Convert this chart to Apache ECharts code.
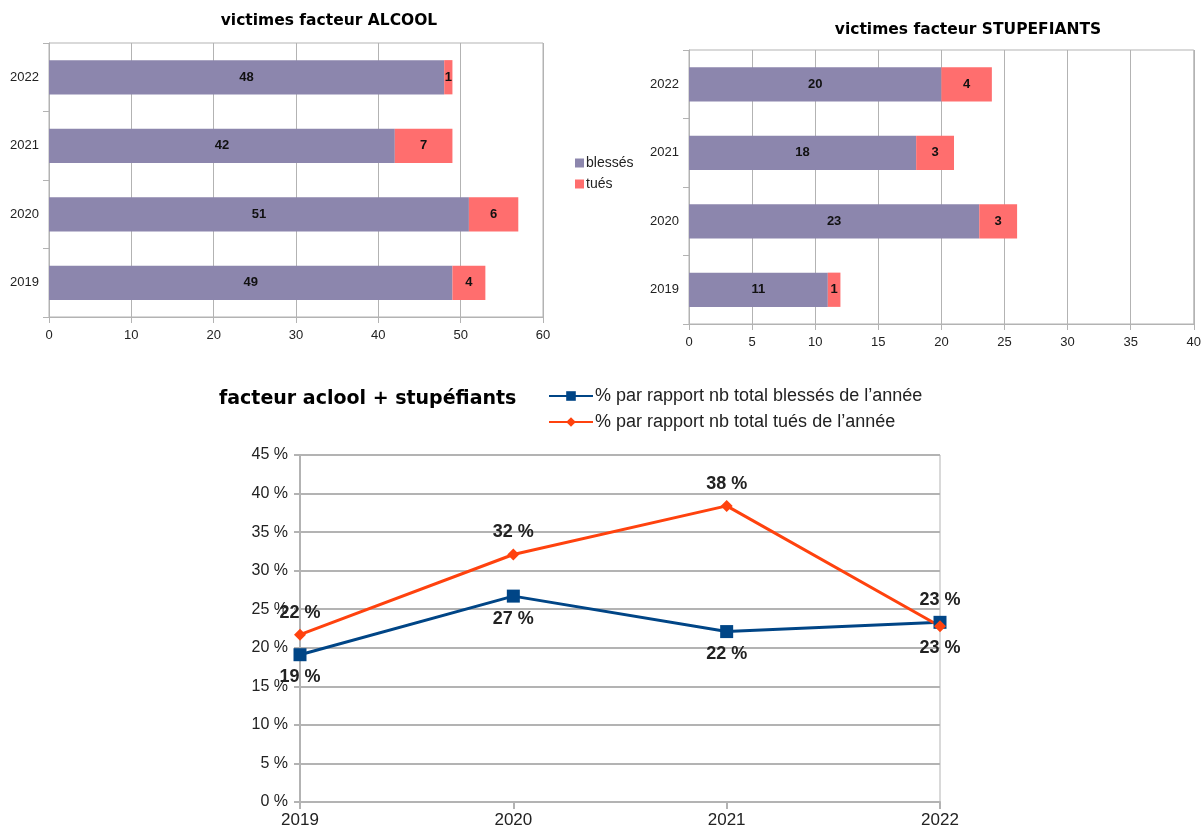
<!DOCTYPE html>
<html><head><meta charset="utf-8">
<script src="https://cdn.jsdelivr.net/npm/echarts@6/dist/echarts.min.js"></script>
<style>html,body{margin:0;padding:0;background:#fff}#c{width:1204px;height:834px}</style>
</head><body><div id="c"></div>
<script>
const years = ['2019', '2020', '2021', '2022'];
const alcoolBlesses = [49, 51, 42, 48];
const alcoolTues = [4, 6, 7, 1];
const stupBlesses = [11, 23, 18, 20];
const stupTues = [1, 3, 3, 4];
const pctBlesses = [19.1, 26.7, 22.1, 23.3];
const pctTues = [21.7, 32.1, 38.4, 22.8];
const blessesLabelPos = ['bottom', 'bottom', 'bottom', 'top'];
const tuesLabelPos = ['top', 'top', 'top', 'bottom'];

const FONT = '"Liberation Sans", Arial, sans-serif';
const TFONT = '"DejaVu Sans", sans-serif';
const GRID = '#b3b3b3';
const C_BL = '#8c86ad';
const C_TU = '#ff6e6e';

function catAxis(gi) {
  return {
    type: 'category', gridIndex: gi, data: years,
    axisLine: { show: true, lineStyle: { color: GRID } },
    axisTick: { show: true, length: 6, lineStyle: { color: GRID } },
    axisLabel: { color: '#222', fontFamily: FONT, fontSize: 13, margin: 10 },
    splitLine: { show: false }
  };
}
function valAxis(gi, max, interval) {
  return {
    type: 'value', gridIndex: gi, min: 0, max: max, interval: interval,
    axisLine: { show: true, lineStyle: { color: GRID } },
    axisTick: { show: true, length: 6, lineStyle: { color: GRID } },
    axisLabel: { color: '#222', fontFamily: FONT, fontSize: 13, margin: 12 },
    splitLine: { show: true, lineStyle: { color: GRID, width: 1 } }
  };
}
const barLabel = { show: true, position: 'inside', color: '#111', fontWeight: 'bold', fontFamily: FONT, fontSize: 13 };

function lineData(vals, pos) {
  return vals.map((v, i) => ({ value: v, label: { position: pos[i] } }));
}

const option = {
  animation: false,
  backgroundColor: '#fff',
  title: [
    { text: 'victimes facteur ALCOOL', left: 324, top: 8, textAlign: 'center',
      textStyle: { fontFamily: TFONT, fontSize: 15.5, fontWeight: 'bold', color: '#000' } },
    { text: 'victimes facteur STUPEFIANTS', left: 963, top: 17, textAlign: 'center',
      textStyle: { fontFamily: TFONT, fontSize: 15.5, fontWeight: 'bold', color: '#000' } },
    { text: 'facteur aclool + stupéfiants', left: 214, top: 385,
      textStyle: { fontFamily: TFONT, fontSize: 19, fontWeight: 'bold', color: '#000' } }
  ],
  legend: [
    { data: ['blessés', 'tués'], orient: 'vertical', left: 570, top: 151, itemGap: 7,
      itemWidth: 9, itemHeight: 9, icon: 'rect',
      textStyle: { fontFamily: FONT, fontSize: 14, color: '#222', padding: [0, 0, 0, -3] } },
    { data: ['% par rapport nb total blessés de l’année', '% par rapport nb total tués de l’année'],
      orient: 'vertical', left: 543, top: 382, itemGap: 8, itemWidth: 44, itemHeight: 12,
      textStyle: { fontFamily: FONT, fontSize: 18, color: '#222', padding: [0, 0, 0, -3] } }
  ],
  grid: [
    { left: 49, top: 43, width: 494, height: 274, show: true, borderColor: GRID, borderWidth: 1 },
    { left: 689, top: 50, width: 506, height: 274, show: true, borderColor: GRID, borderWidth: 1 },
    { left: 300, top: 455, width: 640, height: 347, show: true, borderColor: GRID, borderWidth: 1 }
  ],
  xAxis: [
    valAxis(0, 60, 10),
    valAxis(1, 40, 5),
    {
      type: 'category', gridIndex: 2, data: years, boundaryGap: false,
      axisLine: { show: true, lineStyle: { color: GRID, width: 2 } },
      axisTick: { show: true, length: 7, lineStyle: { color: GRID, width: 2 } },
      axisLabel: { color: '#222', fontFamily: FONT, fontSize: 17, margin: 10 },
      splitLine: { show: false }
    }
  ],
  yAxis: [
    catAxis(0),
    catAxis(1),
    {
      type: 'value', gridIndex: 2, min: 0, max: 45, interval: 5,
      axisLine: { show: true, lineStyle: { color: GRID, width: 2 } },
      axisTick: { show: true, length: 6, lineStyle: { color: GRID, width: 2 } },
      axisLabel: { color: '#222', fontFamily: FONT, fontSize: 16, margin: 12, formatter: '{value} %' },
      splitLine: { show: true, lineStyle: { color: GRID, width: 2 } }
    }
  ],
  series: [
    { name: 'blessés', type: 'bar', xAxisIndex: 0, yAxisIndex: 0, stack: 'a', data: alcoolBlesses,
      barWidth: '50%', itemStyle: { color: C_BL }, label: barLabel },
    { name: 'tués', type: 'bar', xAxisIndex: 0, yAxisIndex: 0, stack: 'a', data: alcoolTues,
      barWidth: '50%', itemStyle: { color: C_TU }, label: barLabel },
    { name: 'blessés', type: 'bar', xAxisIndex: 1, yAxisIndex: 1, stack: 'b', data: stupBlesses,
      barWidth: '50%', itemStyle: { color: C_BL }, label: barLabel },
    { name: 'tués', type: 'bar', xAxisIndex: 1, yAxisIndex: 1, stack: 'b', data: stupTues,
      barWidth: '50%', itemStyle: { color: C_TU }, label: barLabel },
    { name: '% par rapport nb total blessés de l’année', type: 'line', xAxisIndex: 2, yAxisIndex: 2,
      data: lineData(pctBlesses, blessesLabelPos), symbol: 'rect', symbolSize: 13,
      lineStyle: { color: '#004586', width: 3 }, itemStyle: { color: '#004586' },
      label: { show: true, formatter: p => Math.round(p.value) + ' %', color: '#222',
        fontFamily: FONT, fontSize: 18, fontWeight: 'bold', distance: 7 } },
    { name: '% par rapport nb total tués de l’année', type: 'line', xAxisIndex: 2, yAxisIndex: 2,
      data: lineData(pctTues, tuesLabelPos), symbol: 'diamond', symbolSize: 12,
      lineStyle: { color: '#ff420e', width: 3 }, itemStyle: { color: '#ff420e' },
      label: { show: true, formatter: p => Math.round(p.value) + ' %', color: '#222',
        fontFamily: FONT, fontSize: 18, fontWeight: 'bold', distance: 7 } }
  ]
};
const chart = echarts.init(document.getElementById('c'), null, { renderer: 'canvas' });
chart.setOption(option);
</script></body></html>
